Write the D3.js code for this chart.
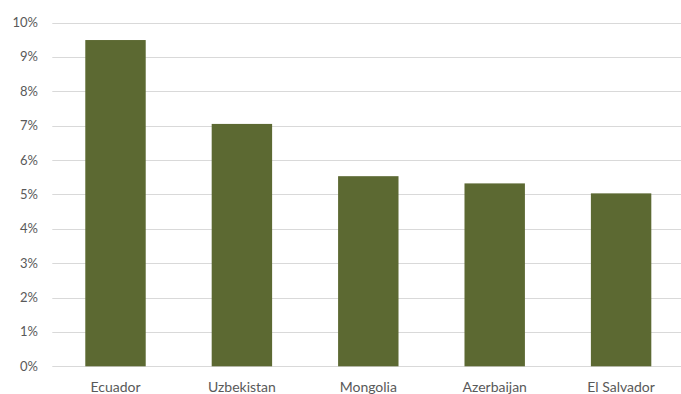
<!DOCTYPE html>
<meta charset="utf-8">
<style>
body { margin: 0; background: #fff; }
text { font-family: Lato, "Open Sans", sans-serif; font-size: 13px; fill: #595959; }
.xlabel { font-size: 14px; }
.grid line { stroke: #d9d9d9; stroke-width: 1px; }
.bar { fill: #5c6932; }
</style>
<svg width="681" height="394"></svg>
<script src="https://d3js.org/d3.v7.min.js"></script>
<script>
var countries = ["Ecuador", "Uzbekistan", "Mongolia", "Azerbaijan", "El Salvador"];
var shares = [0.0949, 0.0705, 0.0553, 0.0532, 0.0503];
var yTicks = [0, 0.01, 0.02, 0.03, 0.04, 0.05, 0.06, 0.07, 0.08, 0.09, 0.10];

var svg = d3.select("svg"),
    plot = {left: 52.3, right: 684.3, top: 22.5, bottom: 366.3};

var x = d3.scaleBand().domain(countries).range([plot.left, plot.right])
    .paddingInner(0.522).paddingOuter(0.261);
var y = d3.scaleLinear().domain([0, 0.10]).range([plot.bottom, plot.top]);

svg.append("g").attr("class", "grid")
  .selectAll("line")
  .data(yTicks)
  .enter().append("line")
    .attr("x1", plot.left)
    .attr("x2", plot.right)
    .attr("y1", function(d) { return Math.round(y(d)) + 0.5; })
    .attr("y2", function(d) { return Math.round(y(d)) + 0.5; });

svg.append("g")
  .selectAll("text")
  .data(yTicks)
  .enter().append("text")
    .attr("x", 38)
    .attr("y", function(d) { return y(d); })
    .attr("dy", "0.35em")
    .attr("text-anchor", "end")
    .text(d3.format(".0%"));

svg.append("g")
  .selectAll("rect")
  .data(shares)
  .enter().append("rect")
    .attr("class", "bar")
    .attr("x", function(d, i) { return x(countries[i]); })
    .attr("width", x.bandwidth())
    .attr("y", function(d) { return y(d); })
    .attr("height", function(d) { return y(0) - y(d); });

svg.append("g")
  .selectAll("text")
  .data(countries)
  .enter().append("text")
    .attr("class", "xlabel")
    .attr("x", function(d) { return x(d) + x.bandwidth() / 2; })
    .attr("y", 387)
    .attr("dy", "0.35em")
    .attr("text-anchor", "middle")
    .text(function(d) { return d; });
</script>
